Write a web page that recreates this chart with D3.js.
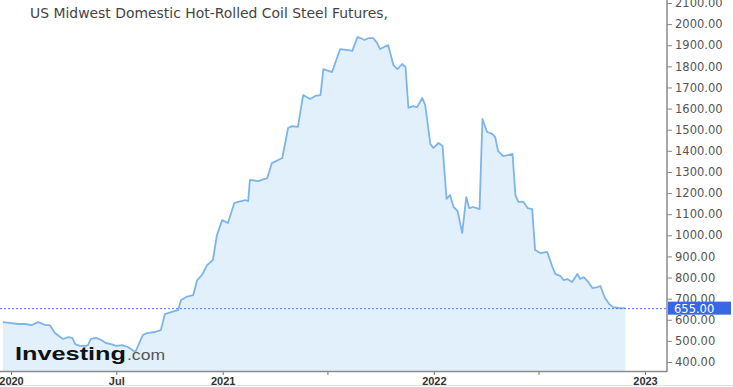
<!DOCTYPE html>
<html>
<head>
<meta charset="utf-8">
<script src="https://cdn.jsdelivr.net/npm/d3@7"></script>
<style>
  body { margin: 0; background: #fff; }
  svg { display: block; }
</style>
</head>
<body>
<svg id="vis"></svg>
<script>
var sizes = { width: 733, height: 387 };

var title = "US Midwest Domestic Hot-Rolled Coil Steel Futures,";
var lastPrice = 655;

// weekly-ish closes
var dates = [
  "2019-12-18","2019-12-30","2020-01-13","2020-01-25","2020-02-06","2020-02-17","2020-02-29","2020-03-08",
  "2020-03-17","2020-03-26","2020-03-31","2020-04-09","2020-04-16","2020-04-21","2020-04-29","2020-05-10",
  "2020-05-13","2020-05-18","2020-05-27","2020-06-05","2020-06-13","2020-06-22","2020-07-01","2020-07-11",
  "2020-07-21","2020-08-03","2020-08-16","2020-08-23","2020-09-06","2020-09-16","2020-09-23","2020-10-09",
  "2020-10-16","2020-10-21","2020-10-30","2020-11-11","2020-11-18","2020-11-26","2020-12-05","2020-12-15",
  "2020-12-22","2020-12-31","2021-01-10","2021-01-21","2021-02-09","2021-02-14","2021-02-17","2021-03-03",
  "2021-03-19","2021-03-27","2021-04-14","2021-04-24","2021-05-01","2021-05-11","2021-05-20","2021-06-01",
  "2021-06-10","2021-06-19","2021-06-24","2021-07-09","2021-07-23","2021-08-06","2021-08-13","2021-08-22",
  "2021-08-27","2021-09-03","2021-09-10","2021-09-18","2021-09-25","2021-09-30","2021-10-14","2021-10-23",
  "2021-10-30","2021-11-07","2021-11-13","2021-11-18","2021-11-26","2021-12-03","2021-12-12","2021-12-17",
  "2021-12-26","2021-12-31","2022-01-09","2022-01-16","2022-01-23","2022-01-29","2022-02-04","2022-02-11",
  "2022-02-19","2022-02-26","2022-03-03","2022-03-10","2022-03-21","2022-03-26","2022-04-03","2022-04-12",
  "2022-04-17","2022-04-22","2022-05-01","2022-05-17","2022-05-22","2022-05-27","2022-06-05","2022-06-12",
  "2022-06-20","2022-06-25","2022-07-04","2022-07-16","2022-07-25","2022-07-30","2022-08-08","2022-08-13",
  "2022-08-20","2022-08-28","2022-09-06","2022-09-11","2022-09-17","2022-09-25","2022-10-02","2022-10-11",
  "2022-10-16","2022-10-23","2022-10-31","2022-11-07","2022-11-19","2022-11-28"
];
var prices = [
  589, 585, 580, 580, 575, 589, 575, 575,
  537, 518, 509, 518, 514, 485, 476, 476,
  480, 509, 514, 504, 490, 485, 476, 480,
  471, 447, 528, 537, 542, 551, 627, 641,
  646, 694, 708, 717, 788, 812, 859, 883,
  1001, 1072, 1058, 1153, 1167, 1162, 1262, 1257,
  1271, 1342, 1366, 1508, 1517, 1513, 1664, 1645,
  1660, 1664, 1787, 1773, 1882, 1877, 1873, 1939,
  1934, 1925, 1934, 1934, 1910, 1882, 1901, 1806,
  1787, 1811, 1797, 1603, 1612, 1607, 1650, 1617,
  1432, 1413, 1437, 1423, 1172, 1191, 1134, 1115,
  1011, 1181, 1129, 1134, 1124, 1551, 1489, 1480,
  1465, 1399, 1375, 1385, 1191, 1158, 1158, 1129,
  1124, 930, 916, 921, 850, 817, 807, 788,
  793, 779, 817, 793, 802, 779, 750, 755,
  760, 708, 675, 660, 655, 655
];

var yTicks = [400, 500, 600, 700, 800, 900, 1000, 1100, 1200, 1300, 1400, 1500, 1600, 1700, 1800, 1900, 2000, 2100];
var xTicks = ["2020-01-01", "2020-07-01", "2021-01-01", "2021-07-01", "2022-01-01", "2022-07-01", "2023-01-01"];
var xTickLabels = ["2020", "Jul", "2021", "", "2022", "", "2023"];

var parse = d3.timeParse("%Y-%m-%d");
var data = dates.map(function(d, i) { return { date: parse(d), value: prices[i] }; });

var axisX = 667, axisBottom = 371;

var x = d3.scaleTime()
    .domain([parse("2020-01-01"), parse("2023-01-01")])
    .range([11, 645]);

var y = d3.scaleLinear()
    .domain([400, 2100])
    .range([362, 3]);

var svg = d3.select("#vis")
    .attr("width", sizes.width)
    .attr("height", sizes.height);

// area + line
var area = d3.area()
    .x(d => x(d.date))
    .y0(axisBottom)
    .y1(d => y(d.value));

var line = d3.line()
    .x(d => x(d.date))
    .y(d => y(d.value));

svg.append("path")
    .datum(data)
    .attr("d", area)
    .attr("fill", "#e1f0fb");

svg.append("path")
    .datum(data)
    .attr("d", line)
    .attr("fill", "none")
    .attr("stroke", "#7db5ea")
    .attr("stroke-width", 1.8)
    .attr("stroke-linejoin", "round");

// last price dotted line
svg.append("line")
    .attr("x1", 0)
    .attr("x2", axisX)
    .attr("y1", y(lastPrice) + 0.5)
    .attr("y2", y(lastPrice) + 0.5)
    .attr("stroke", "#4f7fef")
    .attr("stroke-width", 1)
    .attr("stroke-dasharray", "2,2");

// right axis
var yAxis = d3.axisRight(y)
    .tickValues(yTicks)
    .tickSize(5)
    .tickPadding(3)
    .tickFormat(d3.format(".2f"));

var yg = svg.append("g")
    .attr("transform", "translate(" + axisX + ",0)")
    .call(yAxis);
yg.select(".domain").remove();
yg.selectAll(".tick line").attr("stroke", "#888");
yg.selectAll(".tick text")
    .attr("fill", "#555")
    .style("font-family", "DejaVu Sans, Verdana, sans-serif")
    .style("font-size", "11.5px");

svg.append("line")
    .attr("x1", axisX).attr("x2", axisX)
    .attr("y1", 0).attr("y2", axisBottom + 1)
    .attr("stroke", "#8a8a8a")
    .attr("stroke-width", 1.5);

// bottom axis
var xAxis = d3.axisBottom(x)
    .tickValues(xTicks.map(parse))
    .tickSize(4)
    .tickPadding(2)
    .tickFormat((d, i) => xTickLabels[i]);

var xg = svg.append("g")
    .attr("transform", "translate(0," + axisBottom + ")")
    .call(xAxis);
xg.select(".domain").remove();
xg.selectAll(".tick line").attr("stroke", "#777");
xg.selectAll(".tick text")
    .attr("fill", "#333")
    .style("font-family", "Liberation Sans, Arial, sans-serif")
    .style("font-weight", "bold")
    .style("font-size", "11px");

svg.append("line")
    .attr("x1", 0).attr("x2", axisX)
    .attr("y1", axisBottom + 0.5).attr("y2", axisBottom + 0.5)
    .attr("stroke", "#8a8a8a")
    .attr("stroke-width", 1.5);

svg.append("line")
    .attr("x1", 0).attr("x2", sizes.width)
    .attr("y1", 385.5).attr("y2", 385.5)
    .attr("stroke", "#e2e2e2");

// last price label
var lp = svg.append("g")
    .attr("transform", "translate(" + (axisX + 1) + "," + y(lastPrice) + ")");
lp.append("rect")
    .attr("x", 0).attr("y", -6.5)
    .attr("width", 63).attr("height", 13)
    .attr("fill", "#3767e4");
lp.append("text")
    .attr("x", 6).attr("y", 4.5)
    .attr("fill", "#fff")
    .style("font-family", "DejaVu Sans, Verdana, sans-serif")
    .style("font-size", "11.5px")
    .text(d3.format(".2f")(lastPrice));

// title
svg.append("text")
    .attr("x", 30).attr("y", 18)
    .attr("fill", "#444")
    .style("font-family", "DejaVu Sans, Verdana, sans-serif")
    .style("font-size", "13.5px")
    .attr("textLength", 358)
    .attr("lengthAdjust", "spacingAndGlyphs")
    .text(title);

// watermark
svg.append("text")
    .attr("x", 15).attr("y", 360)
    .attr("fill", "#111")
    .style("font-family", "Liberation Sans, Arial, sans-serif")
    .style("font-weight", "bold")
    .style("font-size", "19px")
    .attr("textLength", 111)
    .attr("lengthAdjust", "spacingAndGlyphs")
    .text("Investing");
svg.append("text")
    .attr("x", 127).attr("y", 360)
    .attr("fill", "#555")
    .style("font-family", "Liberation Sans, Arial, sans-serif")
    .style("font-size", "15px")
    .attr("textLength", 38)
    .attr("lengthAdjust", "spacingAndGlyphs")
    .text(".com");
</script>
</body>
</html>
